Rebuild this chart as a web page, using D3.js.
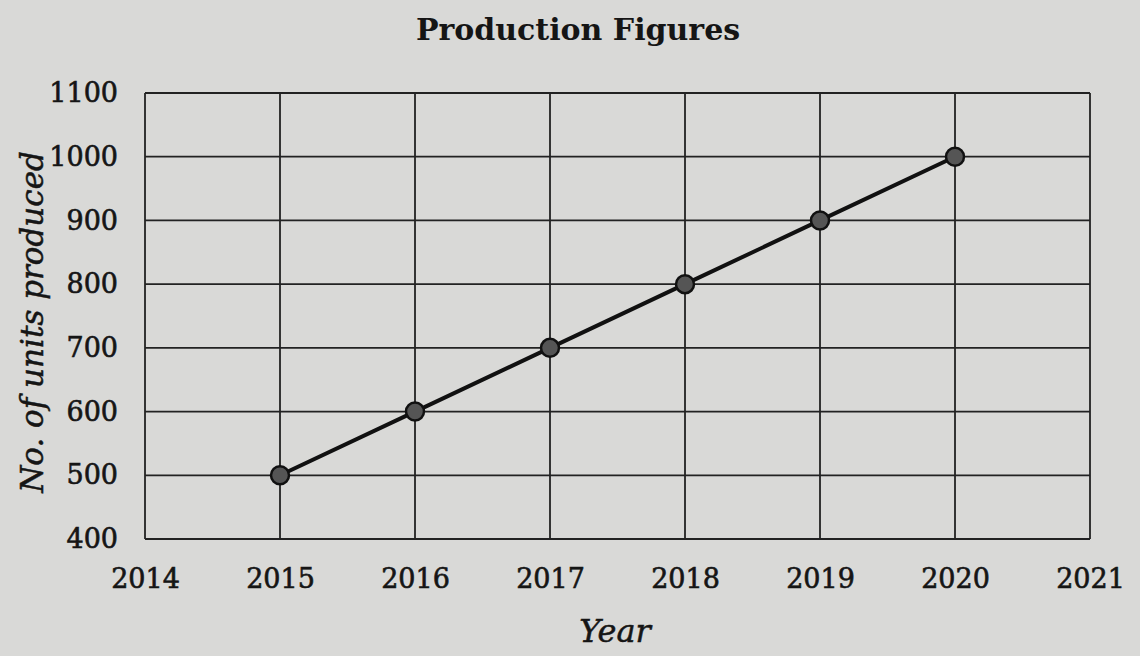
<!DOCTYPE html>
<html>
<head>
<meta charset="utf-8">
<script src="https://cdn.jsdelivr.net/npm/d3@7"></script>
<style>
  html, body { margin: 0; padding: 0; background: #d9d9d7; }
  svg { display: block; }
</style>
</head>
<body>
<svg id="chart" width="1140" height="656"></svg>
<script>
const years = [2015, 2016, 2017, 2018, 2019, 2020];
const units = [500, 600, 700, 800, 900, 1000];
const xTicks = [2014, 2015, 2016, 2017, 2018, 2019, 2020, 2021];
const yTicks = [400, 500, 600, 700, 800, 900, 1000, 1100];
const title = "Production Figures";
const xLabel = "Year";
const yLabel = "No. of units produced";

const svg = d3.select("#chart");
const W = 1140, H = 656;
const m = { left: 145, right: 1090, top: 93, bottom: 539 };

svg.append("rect").attr("width", W).attr("height", H).attr("fill", "#d9d9d7");

const x = d3.scaleLinear().domain([2014, 2021]).range([m.left, m.right]);
const y = d3.scaleLinear().domain([400, 1100]).range([m.bottom, m.top]);

const font = "'DejaVu Serif', serif";
const ink = "#151515";

// grid
const grid = svg.append("g");
grid.selectAll("line.v").data(xTicks).join("line")
  .attr("x1", d => x(d)).attr("x2", d => x(d))
  .attr("y1", m.top).attr("y2", m.bottom)
  .attr("stroke", "#222").attr("stroke-width", 1.8);
grid.selectAll("line.h").data(yTicks).join("line")
  .attr("y1", d => y(d)).attr("y2", d => y(d))
  .attr("x1", m.left).attr("x2", m.right)
  .attr("stroke", "#222").attr("stroke-width", 1.8);

// axes (labels only)
const xAxis = d3.axisBottom(x).tickValues(xTicks).tickFormat(d3.format("d")).tickSize(0).tickPadding(30);
const gx = svg.append("g").attr("transform", `translate(0,${m.bottom})`).call(xAxis);
gx.select(".domain").remove();
gx.selectAll("text").attr("font-family", font).attr("font-size", 27).attr("fill", ink)
  .attr("stroke", ink).attr("stroke-width", 0.6);

const yAxis = d3.axisLeft(y).tickValues(yTicks).tickFormat(d3.format("d")).tickSize(0).tickPadding(27);
const gy = svg.append("g").attr("transform", `translate(${m.left},0)`).call(yAxis);
gy.select(".domain").remove();
gy.selectAll("text").attr("font-family", font).attr("font-size", 27).attr("fill", ink)
  .attr("stroke", ink).attr("stroke-width", 0.6);

// line
const data = years.map((yr, i) => ({ yr, v: units[i] }));
svg.append("path").datum(data)
  .attr("fill", "none").attr("stroke", "#111").attr("stroke-width", 4)
  .attr("d", d3.line().x(d => x(d.yr)).y(d => y(d.v)));

svg.selectAll("circle.pt").data(data).join("circle")
  .attr("cx", d => x(d.yr)).attr("cy", d => y(d.v)).attr("r", 9)
  .attr("fill", "#555").attr("stroke", "#111").attr("stroke-width", 2.5);

// title
svg.append("text").attr("x", 578).attr("y", 40).attr("text-anchor", "middle")
  .attr("font-family", font).attr("font-weight", "bold").attr("font-size", 30).attr("fill", ink)
  .text(title);

// x label
svg.append("text").attr("x", 615).attr("y", 642).attr("text-anchor", "middle")
  .attr("font-family", font).attr("font-style", "italic").attr("font-size", 32).attr("fill", ink)
  .attr("stroke", ink).attr("stroke-width", 0.5)
  .text(xLabel);

// y label
svg.append("text").attr("transform", "translate(43,322) rotate(-90)").attr("text-anchor", "middle")
  .attr("font-family", font).attr("font-style", "italic").attr("font-size", 31).attr("fill", ink)
  .attr("stroke", ink).attr("stroke-width", 0.5)
  .text(yLabel);
</script>
</body>
</html>
